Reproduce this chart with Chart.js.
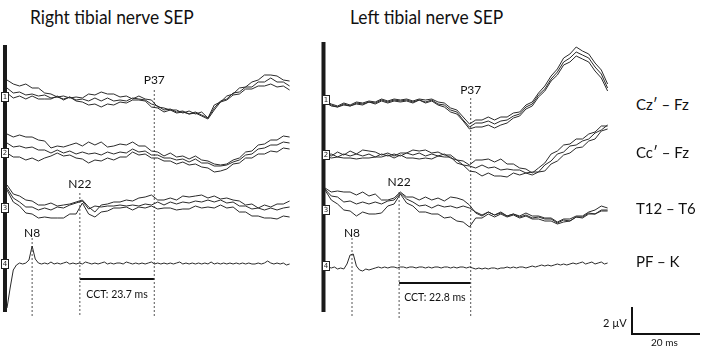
<!DOCTYPE html>
<html><head><meta charset="utf-8">
<script src="https://cdn.jsdelivr.net/npm/chart.js@4.4.1/dist/chart.umd.min.js"></script>
<style>
html,body{margin:0;padding:0;background:#fff;}
body{width:703px;height:347px;position:relative;overflow:hidden;font-family:Lato,"Open Sans",sans-serif;color:#111;}
canvas{position:absolute;}
.t{position:absolute;white-space:nowrap;line-height:1;}
.ttl{font-size:20px;transform:scaleX(0.87);transform-origin:0 0;}
.ln{position:absolute;background:#111;}
</style></head><body>
<div class="t ttl" style="left:30px;top:6px">Right tibial nerve SEP</div>
<div class="t ttl" style="left:350px;top:6px">Left tibial nerve SEP</div>
<canvas id="cL" width="300" height="290" style="left:0;top:40px"></canvas>
<canvas id="cR" width="300" height="290" style="left:318px;top:40px"></canvas>
<div id="chanNames"></div>
<div class="t" style="left:603px;top:317px;font-size:11px">2 µV</div>
<div class="ln" style="left:631px;top:307px;width:1.5px;height:28px"></div>
<div class="ln" style="left:631px;top:333px;width:69px;height:1.5px"></div>
<div class="t" style="left:651px;top:337px;font-size:10px">20 ms</div>
<script>
// ---------------- DATA ----------------
const timeMs = [0,2,4,6,8,10,12,14,16,18,20,22,24,26,28,30,32,34,36,38,40,42,44,46,48,50,52,54,56,58,60,62,64,66,68,70,72,74,76,78,80,82,84,86,88,90];
const timeFineMs = [0,1,2,3,4,5,6,7,8,9,10,11,12,13,14,15,16,17,18,19,20,21,22,23,24,25,26,27,28,29,30,31,32,33,34,35,36,37,38,39,40,41,42,43,44,45,46,47,48,49,50,51,52,53,54,55,56,57,58,59,60,61,62,63,64,65,66,67,68,69,70,71,72,73,74,75,76,77,78,79,80,81,82,83,84,85,86,87,88,89,90];

const channelNames = ['Cz\u2032 \u2013 Fz','Cc\u2032 \u2013 Fz','T12 \u2013 T6','PF \u2013 K'];

// Right tibial nerve SEP (left panel), µV
const rightCzA = [1.7,1.3,1.1,1.3,0.9,0.9,0.4,0.3,0.0,0.1,-0.1,0.0,-0.1,0.3,0.2,0.5,0.3,0.3,0.0,0.1,-0.2,0.1,-0.2,-0.3,-1.0,-1.1,-1.3,-1.3,-1.6,-1.4,-1.7,-1.5,-2.1,-0.8,-0.5,0.1,0.3,0.9,1.0,1.5,1.7,2.2,2.2,2.1,1.7,1.6];
const rightCzB = [0.9,0.4,0.5,0.2,0.3,0.1,0.2,-0.1,0.0,-0.2,0.0,-0.3,-0.2,-0.4,-0.1,-0.4,-0.1,-0.4,-0.3,-0.4,-0.1,-0.2,-0.3,-0.7,-0.9,-1.3,-1.2,-1.5,-1.4,-1.7,-1.5,-1.8,-2.1,-1.1,-0.4,-0.2,0.4,0.5,1.0,1.0,1.5,1.5,1.9,1.5,1.5,1.1];
const rightCzC = [0.4,-0.1,0.1,-0.2,0.1,-0.2,-0.2,-0.2,0.1,-0.3,0.0,-0.4,-0.5,-0.8,-0.7,-1.0,-0.7,-0.8,-0.5,-0.6,-0.3,-0.3,-0.4,-1.0,-1.1,-1.5,-1.3,-1.6,-1.5,-1.7,-1.6,-1.9,-2.2,-1.3,-0.5,-0.3,0.2,0.3,0.8,0.8,1.1,1.1,1.3,1.0,1.1,0.7];
const rightCcA = [1.9,1.6,1.8,1.6,1.6,1.3,1.2,0.5,0.7,0.6,0.8,1.0,0.7,1.1,0.8,1.1,0.6,0.7,0.9,0.8,1.1,0.7,0.7,0.2,0.1,-0.3,0.0,-0.4,-0.3,-0.6,-0.3,-0.7,-0.8,-1.1,-1.2,-1.1,-0.7,-0.5,0.1,0.2,0.8,0.9,1.3,1.3,1.7,1.6];
const rightCcB = [1.0,0.6,0.7,0.5,0.6,0.3,0.3,0.0,0.3,0.0,0.2,-0.1,0.1,-0.1,0.0,-0.2,0.1,-0.1,0.1,0.0,0.4,0.1,0.2,-0.2,-0.2,-0.5,-0.5,-0.7,-0.6,-0.9,-0.6,-1.0,-1.0,-1.3,-1.3,-1.2,-0.9,-0.7,-0.2,-0.1,0.4,0.5,0.8,0.8,1.1,1.0];
const rightCcC = [0.0,-0.4,-0.4,-0.7,-0.5,-0.8,-0.5,-0.3,0.0,-0.3,-0.2,-0.5,-0.6,-1.0,-0.7,-0.8,-0.5,-0.7,-0.4,-0.4,0.1,-0.2,-0.1,-0.5,-0.5,-0.8,-0.8,-1.1,-0.9,-1.2,-1.1,-1.4,-1.5,-1.9,-1.8,-1.6,-1.1,-1.0,-0.5,-0.5,-0.1,-0.1,0.2,0.1,0.5,0.4];
const rightT12A = [2.3,1.4,1.2,0.8,0.7,0.3,0.3,0.5,0.2,0.3,0.4,0.6,0.8,0.1,-0.4,0.3,0.4,0.6,0.6,0.8,0.7,1.0,1.1,1.3,0.8,0.8,1.0,0.8,1.2,1.1,1.2,1.3,1.0,1.2,0.9,1.0,0.8,0.7,0.3,0.4,0.0,0.3,0.1,0.4,0.4,0.7];
const rightT12B = [2.0,1.0,0.6,0.1,0.1,-0.2,0.0,-0.2,0.1,0.0,0.3,0.5,0.7,-0.1,0.2,0.1,0.2,0.2,0.3,0.2,0.3,0.2,0.4,0.3,0.6,0.3,0.6,0.4,0.6,0.5,0.7,0.6,0.8,0.6,0.8,0.5,0.6,0.2,0.2,-0.1,0.0,-0.2,0.0,-0.2,0.0,0.1];
const rightT12C = [1.8,0.6,0.2,-0.5,-0.6,-1.0,-0.9,-1.0,-1.0,-1.0,-0.6,-0.6,0.5,-0.6,-0.9,-0.4,-0.3,0.0,0.0,0.1,-0.2,0.1,0.0,0.2,-0.1,0.0,0.0,-0.2,-0.1,-0.1,0.2,0.0,0.1,0.0,0.3,0.0,0.1,-0.4,-0.4,-0.8,-0.8,-1.0,-1.0,-1.1,-0.8,-0.9];
const rightPF = [-4.4,-2.4,-0.6,-0.1,0.1,0.0,0.1,0.4,1.8,0.5,0.1,0.0,0.1,0.0,0.2,0.0,0.1,0.0,0.1,0.2,0.0,0.1,0.0,0.1,0.0,0.2,0.1,0.0,0.1,0.0,0.1,0.2,0.0,0.1,0.0,0.1,0.1,0.0,0.2,0.1,0.0,0.1,0.0,0.1,0.0,0.1,0.2,0.0,0.1,0.0,0.1,0.0,0.1,0.0,0.1,0.2,0.0,0.1,0.0,0.1,0.0,0.1,0.0,0.1,0.0,0.2,0.0,0.1,0.0,0.1,0.0,0.1,0.0,0.1,0.0,0.1,0.0,0.1,0.0,0.0,0.1,0.0,0.1,0.3,0.1,0.0,0.1,0.0,0.1,-0.1,0.0];
const rightLatencies = {N8: 8.0, N22: 23.2, P37: 46.9};
const rightCCT = 'CCT: 23.7 ms';

// Left tibial nerve SEP (right panel), µV
const leftCzA = [-0.1,-0.4,-0.6,-0.3,-0.5,-0.2,-0.3,-0.1,-0.2,0.1,-0.1,0.1,0.0,0.1,-0.1,0.1,0.0,0.1,-0.2,-0.3,-0.8,-1.0,-1.7,-2.4,-2.0,-2.0,-1.7,-2.0,-1.7,-1.7,-1.3,-1.2,-0.5,-0.2,0.7,1.4,2.4,3.1,4.2,4.6,5.3,4.9,4.6,3.7,3.0,1.6];
const leftCzB = [-0.2,-0.5,-0.7,-0.4,-0.6,-0.3,-0.4,-0.2,-0.3,0.0,-0.2,0.0,-0.1,0.0,-0.2,0.0,-0.2,0.0,-0.4,-0.5,-1.0,-1.2,-2.0,-2.7,-2.3,-2.3,-2.1,-2.4,-2.1,-2.0,-1.6,-1.4,-0.7,-0.4,0.5,1.1,2.1,2.8,3.8,4.2,4.8,4.5,4.2,3.3,2.6,1.2];
const leftCzC = [-0.2,-0.6,-0.7,-0.5,-0.6,-0.4,-0.5,-0.2,-0.4,-0.1,-0.3,-0.1,-0.2,-0.1,-0.3,0.0,-0.3,-0.1,-0.5,-0.7,-1.2,-1.4,-2.1,-2.9,-2.7,-2.7,-2.5,-2.8,-2.5,-2.3,-1.8,-1.6,-0.9,-0.6,0.3,0.9,1.9,2.5,3.5,3.8,4.4,4.1,3.8,2.9,2.2,0.9];
const leftCcA = [0.1,-0.1,0.3,0.0,0.4,0.1,0.5,0.4,0.3,0.0,0.2,-0.1,0.2,0.2,0.5,0.4,0.5,0.2,0.3,0.0,0.0,-0.5,-0.6,-1.0,-0.5,-0.5,-0.4,-0.7,-0.4,-0.9,-0.9,-1.3,-1.4,-1.8,-1.3,-0.8,0.1,0.4,1.0,1.1,1.6,1.6,2.1,2.3,2.9,2.9];
const leftCcB = [0.0,0.1,-0.2,0.1,-0.1,0.1,-0.1,0.1,-0.2,0.1,-0.1,0.1,-0.1,0.2,0.0,0.2,-0.1,0.1,-0.1,0.1,-0.3,-0.5,-1.0,-1.1,-1.3,-1.0,-1.3,-1.2,-1.5,-1.4,-1.5,-1.5,-1.8,-1.7,-1.7,-1.0,-0.6,0.1,0.3,0.9,1.0,1.4,1.6,2.2,2.5,3.0];
const leftCcC = [-0.1,-0.3,-0.2,-0.3,-0.3,-0.4,-0.3,-0.3,-0.2,-0.2,0.0,-0.3,0.0,-0.3,-0.3,-0.4,-0.3,-0.4,-0.1,-0.2,-0.2,-0.8,-1.0,-1.6,-1.7,-2.1,-1.8,-2.1,-2.1,-2.2,-1.8,-2.0,-1.8,-2.0,-1.7,-1.6,-0.9,-0.6,0.0,0.2,0.7,0.8,1.4,1.6,2.4,2.6];
const leftT12A = [2.2,1.8,1.9,1.8,1.8,1.5,1.8,1.4,1.6,1.0,1.0,1.2,1.8,1.3,1.3,1.0,1.3,1.0,1.2,0.9,1.3,1.2,1.0,0.5,-0.3,-0.6,-0.2,-0.5,-0.2,-0.6,-0.4,-0.6,-0.3,-0.6,-0.6,-0.8,-0.8,-1.2,-0.9,-0.9,-0.6,-0.6,-0.2,0.0,0.4,0.2];
const leftT12B = [2.1,1.4,1.3,0.8,0.9,0.6,0.8,0.6,0.8,0.6,0.9,1.0,1.7,1.1,0.8,0.4,0.5,0.2,0.5,0.3,0.4,0.2,0.4,0.2,-0.2,-0.5,-0.2,-0.5,-0.3,-0.6,-0.4,-0.7,-0.5,-0.8,-0.7,-0.9,-0.9,-1.3,-1.0,-1.1,-0.7,-0.8,-0.4,-0.4,-0.1,-0.1];
const leftT12C = [2.0,1.0,0.6,0.0,-0.1,-0.6,-0.2,-0.4,-0.4,-0.3,0.4,0.6,1.6,0.7,0.4,-0.2,-0.2,-0.4,-0.4,-0.8,-0.7,-1.1,-1.2,-1.7,-0.8,-0.8,-0.4,-0.7,-0.4,-0.7,-0.5,-0.8,-0.6,-0.9,-0.9,-1.1,-1.1,-1.4,-1.2,-1.1,-0.7,-0.7,-0.3,-0.4,0.0,0.0];
const leftPF = [0.1,-0.1,-0.2,-0.1,-0.3,-0.2,-0.3,0.2,1.1,1.2,0.0,-0.4,-0.5,-0.3,-0.4,-0.3,-0.2,-0.1,-0.2,-0.1,-0.2,-0.1,-0.1,-0.2,-0.1,-0.1,-0.2,-0.1,-0.1,-0.2,-0.1,-0.1,-0.2,-0.1,-0.2,-0.1,-0.1,-0.2,-0.1,-0.1,-0.2,-0.1,-0.2,-0.1,-0.1,-0.2,-0.1,-0.2,-0.3,-0.2,-0.3,-0.2,-0.3,-0.2,-0.2,-0.3,-0.2,-0.2,-0.1,-0.2,-0.1,-0.2,-0.1,-0.1,-0.2,-0.1,0.0,-0.1,0.0,0.1,0.0,0.1,0.0,0.1,0.2,0.1,0.2,0.1,0.2,0.3,0.2,0.3,0.4,0.2,0.3,0.4,0.2,0.3,0.4,0.2,0.3];
const leftLatencies = {N8: 8.6, N22: 23.6, P37: 46.4};
const leftCCT = 'CCT: 22.8 ms';

// ---------------- LAYOUT (chart units, not data) ----------------
const PX_PER_MS = 3.14;
const X_MIN = -7 / PX_PER_MS, X_MAX = X_MIN + 300 / PX_PER_MS;
const Y_MIN = -29, Y_MAX = 0;
const layoutRightStim = {offsets:[-5.7,-11.3,-16.8,-22.4], artX:-0.64, artTop:-0.5, artBot:-27.2, boxT:-0.5,
  lineTop:{N8:-19.8,N22:-15.3,P37:-5.0}, labelY:{N8:-19.3,N22:-14.4,P37:-4.0}, lineBot:-27.7, cctY:-23.9, cctTextY:-25.5};
const layoutLeftStim = {offsets:[-6.0,-11.5,-17.0,-22.6], artX:-0.48, artTop:-0.2, artBot:-27.2, boxT:0.3,
  lineTop:{N8:-19.8,N22:-15.2,P37:-5.8}, labelY:{N8:-19.3,N22:-14.2,P37:-5.0}, lineBot:-27.8, cctY:-24.3, cctTextY:-25.8};

const TRACE = '#2a2a2a';
function series(times, vals, off){ return times.map((t,i)=>({x:t, y:off+vals[i]})); }

function makeAnnot(L, lat, cctText){
  return {
    id:'annot',
    afterDatasetsDraw(chart){
      const {ctx, scales:{x,y}} = chart;
      ctx.save();
      L.offsets.forEach((o,i)=>{
        const cx = Math.round(x.getPixelForValue(L.boxT)), cy = Math.round(y.getPixelForValue(o));
        ctx.fillStyle='#fff'; ctx.fillRect(cx-4,cy-5,8,10);
        ctx.strokeStyle='#222'; ctx.lineWidth=1; ctx.strokeRect(cx-3.5,cy-4.5,7,9);
        ctx.fillStyle='#222'; ctx.font='7px "DejaVu Sans"'; ctx.textAlign='center'; ctx.textBaseline='middle';
        ctx.fillText(String(i+1), cx, cy+0.5);
      });
      ctx.fillStyle='#111'; ctx.textAlign='center'; ctx.textBaseline='middle';
      ctx.font='12px Lato';
      ['N8','N22','P37'].forEach(k=>ctx.fillText(k, x.getPixelForValue(lat[k]), y.getPixelForValue(L.labelY[k])));
      ctx.font='10.5px Lato';
      ctx.fillText(cctText, x.getPixelForValue((lat.N22+lat.P37)/2), y.getPixelForValue(L.cctTextY));
      ctx.restore();
    }
  };
}

function makePanel(id, chans, pf, lat, cctText, L){
  const ds = [];
  chans.forEach((tr,ch)=>tr.forEach(v=>ds.push({data:series(timeMs,v,L.offsets[ch]), borderColor:TRACE, borderWidth:1})));
  ds.push({data:series(timeFineMs,pf,L.offsets[3]), borderColor:TRACE, borderWidth:1});
  ['N8','N22','P37'].forEach(k=>ds.push({data:[{x:lat[k],y:L.lineTop[k]},{x:lat[k],y:L.lineBot}], borderColor:'#555', borderWidth:1, borderDash:[2,2]}));
  ds.push({data:[{x:lat.N22,y:L.cctY},{x:lat.P37,y:L.cctY}], borderColor:'#111', borderWidth:2});
  ds.push({data:[{x:L.artX,y:L.artTop},{x:L.artX,y:L.artBot}], borderColor:'#1a1a1a', borderWidth:4});
  new Chart(document.getElementById(id), {
    type:'line',
    data:{datasets:ds},
    options:{
      responsive:false, animation:false, events:[],
      layout:{padding:0},
      elements:{point:{radius:0}, line:{tension:0, borderCapStyle:'butt'}},
      scales:{x:{type:'linear',min:X_MIN,max:X_MAX,display:false}, y:{min:Y_MIN,max:Y_MAX,display:false}},
      plugins:{legend:{display:false}, tooltip:{enabled:false}, title:{display:false}}
    },
    plugins:[makeAnnot(L, lat, cctText)]
  });
}

makePanel('cL', [[rightCzA,rightCzB,rightCzC],[rightCcA,rightCcB,rightCcC],[rightT12A,rightT12B,rightT12C]], rightPF, rightLatencies, rightCCT, layoutRightStim);
makePanel('cR', [[leftCzA,leftCzB,leftCzC],[leftCcA,leftCcB,leftCcC],[leftT12A,leftT12B,leftT12C]], leftPF, leftLatencies, leftCCT, layoutLeftStim);

const nameY = [105,153,209,262];
const holder = document.getElementById('chanNames');
channelNames.forEach((n,i)=>{
  const d = document.createElement('div'); d.className='t';
  d.style.cssText = 'left:636px;top:'+(nameY[i]-8)+'px;font-size:15px';
  d.textContent = n; holder.appendChild(d);
});
</script>
</body></html>
